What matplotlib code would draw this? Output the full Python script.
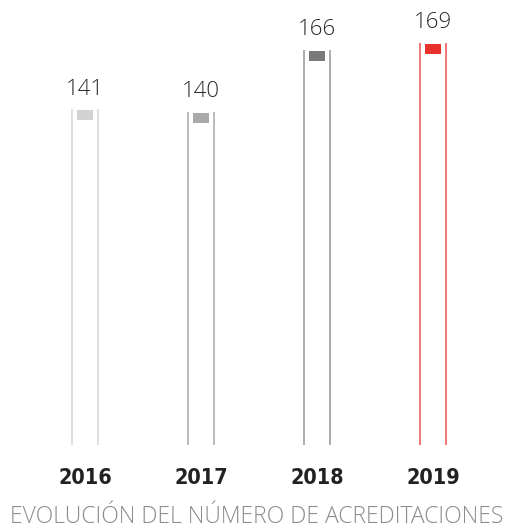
import matplotlib
matplotlib.use("Agg")
import matplotlib.pyplot as plt

years = ["2016", "2017", "2018", "2019"]
values = [141, 140, 166, 169]
edge_colors = ["#dcdcdc", "#b4b4b4", "#a6a6a6", "#f06a6a"]
cap_colors = ["#d2d2d2", "#a9a9a9", "#7a7a7a", "#e8302c"]
title = "EVOLUCIÓN DEL NÚMERO DE ACREDITACIONES"

W, H = 514, 528
fig = plt.figure(figsize=(W / 100, H / 100), dpi=100)
# axes placed so the bar centres and baseline fall where the original has them
ax = fig.add_axes([27 / W, 83 / H, 464 / W, 476 / H])
ax.set_xlim(-0.5, 3.5)
ax.set_ylim(0, 200)
ax.axis("off")

half = 0.108
cap_half = 0.07
cap_h = 4.2
for i, (v, ec, cc) in enumerate(zip(values, edge_colors, cap_colors)):
    ax.vlines([i - half, i + half], 0, v, colors=ec, linewidth=1.3)
    ax.bar(i, cap_h, bottom=v - cap_h - 0.4, width=2 * cap_half, color=cc,
           linewidth=0)
    ax.annotate(str(v), (i, v), xytext=(0, 10.5), textcoords="offset points",
                ha="center", va="baseline", fontsize=16, color="#2a2a2a",
                family="Open Sans", fontweight="light")
    ax.annotate(years[i], (i, 0), xytext=(0, -28), textcoords="offset points",
                ha="center", va="baseline", fontsize=15.5, color="#222222",
                family="DejaVu Sans", fontstretch="condensed",
                fontweight="bold")

fig.text(0.5, 5 / H, title, ha="center", va="baseline", fontsize=16.5,
         color="#8c8c8c", family="Open Sans", fontweight="light")

fig.savefig("out.png", dpi=100)
